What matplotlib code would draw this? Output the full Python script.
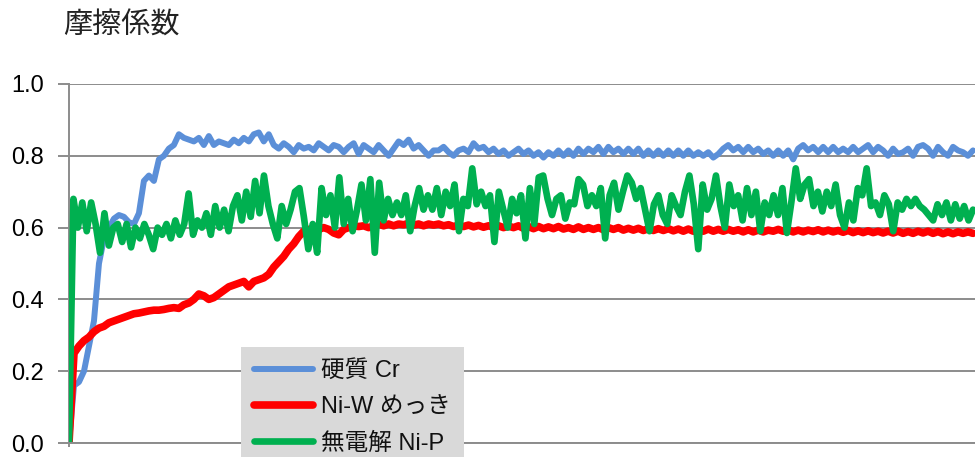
#importing libraries
import numpy as np
import matplotlib
matplotlib.use("Agg")
import matplotlib.pyplot as plt

plt.rcParams['font.family'] = ['Liberation Sans', 'Noto Sans CJK JP']

# friction coefficient data
labels = ['硬質 Cr', 'Ni-W めっき', '無電解 Ni-P']

hard_cr = [0.00, 0.16, 0.17, 0.20, 0.27, 0.34, 0.50, 0.57, 0.60, 0.625,
           0.635, 0.63, 0.615, 0.61, 0.64, 0.73, 0.745, 0.73, 0.79, 0.80,
           0.82, 0.83, 0.86, 0.85, 0.845, 0.84, 0.85, 0.83, 0.855, 0.83,
           0.84, 0.835, 0.83, 0.845, 0.835, 0.85, 0.84, 0.86, 0.865, 0.84,
           0.86, 0.83, 0.82, 0.835, 0.825, 0.81, 0.83, 0.82, 0.825, 0.815,
           0.835, 0.825, 0.815, 0.83, 0.825, 0.81, 0.825, 0.835, 0.805, 0.83,
           0.82, 0.81, 0.83, 0.815, 0.80, 0.82, 0.84, 0.83, 0.845, 0.82,
           0.83, 0.815, 0.80, 0.815, 0.815, 0.825, 0.81, 0.80, 0.815, 0.82,
           0.81, 0.835, 0.82, 0.825, 0.81, 0.82, 0.805, 0.815, 0.80, 0.81,
           0.82, 0.805, 0.815, 0.80, 0.81, 0.795, 0.81, 0.80, 0.815, 0.80,
           0.815, 0.80, 0.82, 0.805, 0.82, 0.81, 0.825, 0.805, 0.825, 0.81,
           0.82, 0.805, 0.82, 0.805, 0.82, 0.80, 0.815, 0.80, 0.815, 0.80,
           0.815, 0.80, 0.815, 0.80, 0.815, 0.80, 0.81, 0.80, 0.81, 0.795,
           0.805, 0.82, 0.83, 0.815, 0.825, 0.81, 0.825, 0.81, 0.82, 0.805,
           0.815, 0.80, 0.815, 0.80, 0.815, 0.79, 0.82, 0.83, 0.815, 0.825,
           0.81, 0.825, 0.81, 0.825, 0.81, 0.82, 0.81, 0.825, 0.81, 0.82,
           0.83, 0.81, 0.825, 0.815, 0.80, 0.82, 0.805, 0.81, 0.82, 0.80,
           0.825, 0.83, 0.82, 0.80, 0.825, 0.81, 0.80, 0.825, 0.815, 0.81,
           0.80, 0.815]

ni_w = [0.00, 0.25, 0.27, 0.285, 0.295, 0.31, 0.32, 0.325, 0.335, 0.34,
        0.345, 0.35, 0.355, 0.36, 0.362, 0.365, 0.368, 0.37, 0.37, 0.372,
        0.375, 0.377, 0.375, 0.385, 0.39, 0.40, 0.415, 0.41, 0.40, 0.405,
        0.415, 0.425, 0.435, 0.44, 0.445, 0.45, 0.435, 0.45, 0.455, 0.46,
        0.47, 0.49, 0.505, 0.52, 0.54, 0.555, 0.575, 0.59, 0.595, 0.595,
        0.595, 0.60, 0.595, 0.585, 0.58, 0.595, 0.60, 0.605, 0.603, 0.605,
        0.60, 0.605, 0.61, 0.605, 0.61, 0.605, 0.61, 0.608, 0.612, 0.607,
        0.61, 0.605, 0.61, 0.607, 0.61, 0.605, 0.608, 0.603, 0.607, 0.603,
        0.607, 0.602, 0.606, 0.601, 0.605, 0.601, 0.605, 0.60, 0.604, 0.60,
        0.605, 0.598, 0.603, 0.597, 0.603, 0.597, 0.602, 0.597, 0.603, 0.596,
        0.60, 0.595, 0.602, 0.595, 0.60, 0.595, 0.60, 0.594, 0.60, 0.595,
        0.60, 0.593, 0.598, 0.593, 0.598, 0.592, 0.597, 0.592, 0.597, 0.592,
        0.597, 0.591, 0.596, 0.59, 0.596, 0.59, 0.595, 0.59, 0.596, 0.59,
        0.595, 0.59, 0.595, 0.59, 0.594, 0.588, 0.594, 0.588, 0.593, 0.588,
        0.593, 0.59, 0.595, 0.59, 0.594, 0.588, 0.593, 0.588, 0.593, 0.589,
        0.594, 0.588, 0.593, 0.588, 0.592, 0.587, 0.592, 0.586, 0.591, 0.586,
        0.591, 0.586, 0.59, 0.585, 0.59, 0.585, 0.59, 0.584, 0.589, 0.584,
        0.59, 0.585, 0.59, 0.584, 0.589, 0.583, 0.588, 0.583, 0.588, 0.584,
        0.588, 0.584]

ni_p = [0.0, 0.68, 0.60, 0.67, 0.59, 0.67, 0.61, 0.53, 0.64, 0.55,
        0.60, 0.61, 0.56, 0.61, 0.545, 0.60, 0.57, 0.61, 0.58, 0.54,
        0.60, 0.58, 0.61, 0.57, 0.62, 0.58, 0.61, 0.695, 0.58, 0.62,
        0.60, 0.64, 0.58, 0.66, 0.60, 0.65, 0.59, 0.66, 0.69, 0.62,
        0.70, 0.63, 0.73, 0.64, 0.745, 0.66, 0.61, 0.57, 0.66, 0.61,
        0.65, 0.70, 0.71, 0.63, 0.54, 0.61,
        0.53, 0.71, 0.635, 0.69, 0.60, 0.74, 0.61, 0.68, 0.59, 0.65,
        0.72, 0.62, 0.735, 0.53, 0.725, 0.62, 0.68, 0.635, 0.67, 0.635,
        0.69, 0.59, 0.66, 0.71, 0.65, 0.69, 0.65, 0.71, 0.635, 0.70,
        0.66, 0.72, 0.59, 0.68, 0.66, 0.765, 0.665, 0.70, 0.66, 0.69,
        0.56, 0.70, 0.65, 0.60, 0.68, 0.64, 0.69, 0.57, 0.71, 0.61, 0.74,
        0.745, 0.68, 0.635, 0.68, 0.69, 0.625, 0.67, 0.665, 0.735, 0.72,
        0.66, 0.69, 0.66, 0.71, 0.57, 0.69, 0.725, 0.65, 0.70, 0.745,
        0.725, 0.68, 0.71, 0.65, 0.59, 0.665, 0.69, 0.635, 0.61, 0.69,
        0.66, 0.635, 0.70, 0.745, 0.665, 0.54, 0.72, 0.65, 0.68, 0.745,
        0.66, 0.60, 0.72, 0.66, 0.69, 0.62,
        0.71, 0.635, 0.70, 0.59, 0.67, 0.635, 0.69, 0.635, 0.71, 0.585,
        0.67, 0.765, 0.68, 0.72, 0.735, 0.66, 0.70, 0.645, 0.70, 0.66,
        0.72, 0.635, 0.60, 0.67, 0.62, 0.71, 0.69, 0.765, 0.66, 0.67,
        0.635, 0.69, 0.665, 0.59, 0.67, 0.65, 0.68, 0.66, 0.68, 0.66,
        0.65, 0.635, 0.62, 0.665, 0.635, 0.67, 0.62, 0.665, 0.625, 0.66,
        0.62, 0.65]

y_ticks = [0.0, 0.2, 0.4, 0.6, 0.8, 1.0]

#Graph
fig = plt.figure(figsize=(9.75, 4.57), dpi=100)
ax = fig.add_axes([69 / 975, 14 / 457, (975 - 69) / 975, 359 / 457])

n = len(hard_cr)
x = np.arange(n)
x_p = np.linspace(0, n - 1, len(ni_p))

grid_col = '#8c8c8c'
ax.plot(x, hard_cr, color='#5b8fd8', lw=4.3, solid_joinstyle='round',
        solid_capstyle='round', label=labels[0], zorder=3)
ax.plot(x, ni_w, color='#ff0000', lw=5.5, solid_joinstyle='round',
        solid_capstyle='round', label=labels[1], zorder=4)
ax.plot(x_p, ni_p, color='#00b050', lw=4.8, solid_joinstyle='round',
        solid_capstyle='round', label=labels[2], zorder=5)

ax.set_xlim(0, (n - 1) * 906 / 904)
ax.set_ylim(0, 1.0)
ax.set_yticks(y_ticks)
ax.set_yticklabels(['%.1f' % v for v in y_ticks], fontsize=17)
ax.set_xticks([0])
ax.set_xticklabels([])
ax.yaxis.grid(True, color=grid_col, lw=1.4)
ax.set_axisbelow(True)
ax.tick_params(axis='y', length=8, width=1.4, color=grid_col, pad=10)
ax.tick_params(axis='x', length=3, width=1.4, color=grid_col)
for s in ['top', 'right']:
    ax.spines[s].set_visible(False)
ax.spines['left'].set_color(grid_col)
ax.spines['left'].set_linewidth(1.4)
ax.spines['bottom'].set_color(grid_col)
ax.spines['bottom'].set_linewidth(1.4)
ax.spines['bottom'].set_zorder(6)

fig.text(63 / 975, 1 - 26 / 457, '摩擦係数', fontsize=21, color='#222222',
         va='center', ha='left', family=['Noto Sans CJK JP'])

leg = ax.legend(loc='upper left', bbox_to_anchor=(241 / 975, 1 - 347 / 457),
                bbox_transform=fig.transFigure, fontsize=17, frameon=True,
                fancybox=False, framealpha=1, facecolor='#d9d9d9',
                edgecolor='none', borderaxespad=0, borderpad=0.55,
                handlelength=2.5, handletextpad=0.34, labelspacing=0.6)
leg.set_zorder(10)
for t in leg.get_texts():
    t.set_color('#111111')

plt.savefig('out.png', dpi=100)
